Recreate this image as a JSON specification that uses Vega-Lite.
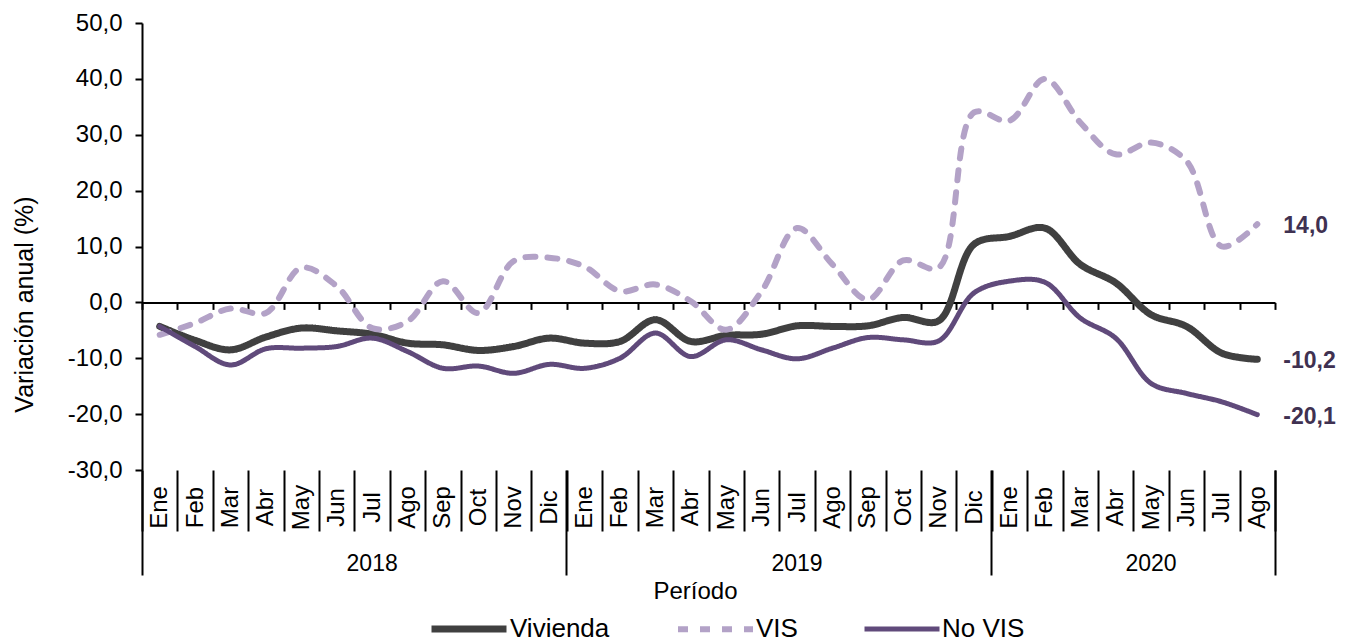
{
  "$schema": "https://vega.github.io/schema/vega-lite/v6.json",
  "width": 1133,
  "height": 447,
  "autosize": "none",
  "padding": {"left": 142, "top": 23, "right": 76, "bottom": 171},
  "background": "white",
  "config": {
    "font": "Liberation Sans",
    "view": {"stroke": null},
    "axis": {"labelColor": "#000000", "titleColor": "#000000", "domainColor": "#000000", "tickColor": "#000000", "grid": false}
  },
  "datasets": {
    "d": [
      {"periodo": "Ene 2018", "serie": "Vivienda", "valor": -4.3},
      {"periodo": "Feb 2018", "serie": "Vivienda", "valor": -6.8},
      {"periodo": "Mar 2018", "serie": "Vivienda", "valor": -8.5},
      {"periodo": "Abr 2018", "serie": "Vivienda", "valor": -6.2},
      {"periodo": "May 2018", "serie": "Vivienda", "valor": -4.6},
      {"periodo": "Jun 2018", "serie": "Vivienda", "valor": -5.1},
      {"periodo": "Jul 2018", "serie": "Vivienda", "valor": -5.7},
      {"periodo": "Ago 2018", "serie": "Vivienda", "valor": -7.3},
      {"periodo": "Sep 2018", "serie": "Vivienda", "valor": -7.6},
      {"periodo": "Oct 2018", "serie": "Vivienda", "valor": -8.6},
      {"periodo": "Nov 2018", "serie": "Vivienda", "valor": -7.9},
      {"periodo": "Dic 2018", "serie": "Vivienda", "valor": -6.4},
      {"periodo": "Ene 2019", "serie": "Vivienda", "valor": -7.3},
      {"periodo": "Feb 2019", "serie": "Vivienda", "valor": -7.0},
      {"periodo": "Mar 2019", "serie": "Vivienda", "valor": -3.1},
      {"periodo": "Abr 2019", "serie": "Vivienda", "valor": -7.0},
      {"periodo": "May 2019", "serie": "Vivienda", "valor": -5.9},
      {"periodo": "Jun 2019", "serie": "Vivienda", "valor": -5.7},
      {"periodo": "Jul 2019", "serie": "Vivienda", "valor": -4.2},
      {"periodo": "Ago 2019", "serie": "Vivienda", "valor": -4.3},
      {"periodo": "Sep 2019", "serie": "Vivienda", "valor": -4.2},
      {"periodo": "Oct 2019", "serie": "Vivienda", "valor": -2.7},
      {"periodo": "Nov 2019", "serie": "Vivienda", "valor": -3.3},
      {"periodo": "Dic 2019", "serie": "Vivienda", "valor": 10.4},
      {"periodo": "Ene 2020", "serie": "Vivienda", "valor": 11.8},
      {"periodo": "Feb 2020", "serie": "Vivienda", "valor": 13.3},
      {"periodo": "Mar 2020", "serie": "Vivienda", "valor": 6.8},
      {"periodo": "Abr 2020", "serie": "Vivienda", "valor": 3.5},
      {"periodo": "May 2020", "serie": "Vivienda", "valor": -2.2},
      {"periodo": "Jun 2020", "serie": "Vivienda", "valor": -4.3},
      {"periodo": "Jul 2020", "serie": "Vivienda", "valor": -9.1},
      {"periodo": "Ago 2020", "serie": "Vivienda", "valor": -10.2},
      {"periodo": "Ene 2018", "serie": "VIS", "valor": -5.8},
      {"periodo": "Feb 2018", "serie": "VIS", "valor": -3.7},
      {"periodo": "Mar 2018", "serie": "VIS", "valor": -1.1},
      {"periodo": "Abr 2018", "serie": "VIS", "valor": -1.9},
      {"periodo": "May 2018", "serie": "VIS", "valor": 6.2},
      {"periodo": "Jun 2018", "serie": "VIS", "valor": 2.9},
      {"periodo": "Jul 2018", "serie": "VIS", "valor": -4.6},
      {"periodo": "Ago 2018", "serie": "VIS", "valor": -3.4},
      {"periodo": "Sep 2018", "serie": "VIS", "valor": 3.8},
      {"periodo": "Oct 2018", "serie": "VIS", "valor": -1.9},
      {"periodo": "Nov 2018", "serie": "VIS", "valor": 7.4},
      {"periodo": "Dic 2018", "serie": "VIS", "valor": 8.0},
      {"periodo": "Ene 2019", "serie": "VIS", "valor": 6.4},
      {"periodo": "Feb 2019", "serie": "VIS", "valor": 2.0},
      {"periodo": "Mar 2019", "serie": "VIS", "valor": 3.2},
      {"periodo": "Abr 2019", "serie": "VIS", "valor": 0.2},
      {"periodo": "May 2019", "serie": "VIS", "valor": -4.9},
      {"periodo": "Jun 2019", "serie": "VIS", "valor": 2.0},
      {"periodo": "Jul 2019", "serie": "VIS", "valor": 13.3},
      {"periodo": "Ago 2019", "serie": "VIS", "valor": 6.8},
      {"periodo": "Sep 2019", "serie": "VIS", "valor": 0.5},
      {"periodo": "Oct 2019", "serie": "VIS", "valor": 7.5},
      {"periodo": "Nov 2019", "serie": "VIS", "valor": 6.2},
      {"periodo": "Dic 2019", "serie": "VIS", "valor": 34.0},
      {"periodo": "Ene 2020", "serie": "VIS", "valor": 32.5},
      {"periodo": "Feb 2020", "serie": "VIS", "valor": 40.0},
      {"periodo": "Mar 2020", "serie": "VIS", "valor": 32.2},
      {"periodo": "Abr 2020", "serie": "VIS", "valor": 26.5},
      {"periodo": "May 2020", "serie": "VIS", "valor": 28.6},
      {"periodo": "Jun 2020", "serie": "VIS", "valor": 25.3},
      {"periodo": "Jul 2020", "serie": "VIS", "valor": 10.0},
      {"periodo": "Ago 2020", "serie": "VIS", "valor": 14.0},
      {"periodo": "Ene 2018", "serie": "No VIS", "valor": -4.3},
      {"periodo": "Feb 2018", "serie": "No VIS", "valor": -7.9},
      {"periodo": "Mar 2018", "serie": "No VIS", "valor": -11.2},
      {"periodo": "Abr 2018", "serie": "No VIS", "valor": -8.3},
      {"periodo": "May 2018", "serie": "No VIS", "valor": -8.2},
      {"periodo": "Jun 2018", "serie": "No VIS", "valor": -7.9},
      {"periodo": "Jul 2018", "serie": "No VIS", "valor": -6.4},
      {"periodo": "Ago 2018", "serie": "No VIS", "valor": -8.8},
      {"periodo": "Sep 2018", "serie": "No VIS", "valor": -11.8},
      {"periodo": "Oct 2018", "serie": "No VIS", "valor": -11.4},
      {"periodo": "Nov 2018", "serie": "No VIS", "valor": -12.7},
      {"periodo": "Dic 2018", "serie": "No VIS", "valor": -11.1},
      {"periodo": "Ene 2019", "serie": "No VIS", "valor": -11.8},
      {"periodo": "Feb 2019", "serie": "No VIS", "valor": -10.0},
      {"periodo": "Mar 2019", "serie": "No VIS", "valor": -5.5},
      {"periodo": "Abr 2019", "serie": "No VIS", "valor": -9.7},
      {"periodo": "May 2019", "serie": "No VIS", "valor": -6.7},
      {"periodo": "Jun 2019", "serie": "No VIS", "valor": -8.5},
      {"periodo": "Jul 2019", "serie": "No VIS", "valor": -10.1},
      {"periodo": "Ago 2019", "serie": "No VIS", "valor": -8.2},
      {"periodo": "Sep 2019", "serie": "No VIS", "valor": -6.3},
      {"periodo": "Oct 2019", "serie": "No VIS", "valor": -6.7},
      {"periodo": "Nov 2019", "serie": "No VIS", "valor": -6.9},
      {"periodo": "Dic 2019", "serie": "No VIS", "valor": 1.7},
      {"periodo": "Ene 2020", "serie": "No VIS", "valor": 3.8},
      {"periodo": "Feb 2020", "serie": "No VIS", "valor": 3.6},
      {"periodo": "Mar 2020", "serie": "No VIS", "valor": -2.8},
      {"periodo": "Abr 2020", "serie": "No VIS", "valor": -6.4},
      {"periodo": "May 2020", "serie": "No VIS", "valor": -14.5},
      {"periodo": "Jun 2020", "serie": "No VIS", "valor": -16.3},
      {"periodo": "Jul 2020", "serie": "No VIS", "valor": -17.8},
      {"periodo": "Ago 2020", "serie": "No VIS", "valor": -20.1}
    ]
  },
  "data": {"name": "d"},
  "layer": [
    {
      "mark": {"type": "line", "interpolate": "catmull-rom", "strokeCap": "round", "strokeJoin": "round"},
      "encoding": {
        "x": {
          "field": "periodo", "type": "ordinal", "sort": null,
          "scale": {
            "type": "band", "paddingInner": 0, "paddingOuter": 0,
            "domain": ["Ene 2018","Feb 2018","Mar 2018","Abr 2018","May 2018","Jun 2018","Jul 2018","Ago 2018","Sep 2018","Oct 2018","Nov 2018","Dic 2018","Ene 2019","Feb 2019","Mar 2019","Abr 2019","May 2019","Jun 2019","Jul 2019","Ago 2019","Sep 2019","Oct 2019","Nov 2019","Dic 2019","Ene 2020","Feb 2020","Mar 2020","Abr 2020","May 2020","Jun 2020","Jul 2020","Ago 2020"]
          },
          "axis": {
            "orient": "bottom", "offset": -167.6, "labels": false, "title": null,
            "domain": true, "domainWidth": 2, "ticks": true, "tickBand": "extent",
            "tickSize": 7, "tickWidth": 2, "zindex": 0
          }
        },
        "y": {
          "field": "valor", "type": "quantitative",
          "scale": {"domain": [-30, 50], "nice": false, "zero": false},
          "axis": {
            "values": [-30, -20, -10, 0, 10, 20, 30, 40, 50],
            "labelExpr": "datum.value + ',0'",
            "labelFontSize": 24, "labelPadding": 13,
            "tickSize": 7, "tickWidth": 2, "domainWidth": 2,
            "title": "Variación anual (%)", "titleFontSize": 25, "titleFontWeight": "normal",
            "titleX": -110, "titleY": 281, "titleAngle": -90, "titleAlign": "center", "titleBaseline": "alphabetic"
          }
        },
        "color": {
          "field": "serie", "type": "nominal",
          "scale": {"domain": ["Vivienda", "VIS", "No VIS"], "range": ["#404040", "#b3a2c7", "#604a7b"]},
          "legend": {
            "title": null, "orient": "none", "direction": "horizontal", "legendX": 286, "legendY": 565,
            "symbolType": "stroke", "symbolSize": 5625, "symbolStrokeWidth": 6,
            "labelFontSize": 26, "labelColor": "#000000", "labelOffset": 0, "columnPadding": 56,
            "labelLimit": 300
          }
        },
        "strokeDash": {
          "field": "serie", "type": "nominal",
          "scale": {"domain": ["Vivienda", "VIS", "No VIS"], "range": [[1, 0], [10, 12], [1, 0]]},
          "legend": {"title": null}
        },
        "strokeWidth": {
          "field": "serie", "type": "ordinal",
          "scale": {"domain": ["Vivienda", "VIS", "No VIS"], "range": [7, 5, 4.5]},
          "legend": null
        }
      }
    },
    {
      "transform": [
        {"filter": "datum.periodo === 'Ago 2020'"},
        {"calculate": "(datum.valor < 0 ? '-' : '') + replace(format(abs(datum.valor), '.1f'), '.', ',')", "as": "etiqueta"}
      ],
      "mark": {"type": "text", "align": "left", "baseline": "middle", "dx": 26, "dy": 2, "fontSize": 23, "fontWeight": "bold", "color": "#3f3151"},
      "encoding": {
        "x": {"field": "periodo", "type": "ordinal", "sort": null, "axis": null},
        "y": {"field": "valor", "type": "quantitative"},
        "text": {"field": "etiqueta"}
      }
    },
    {
      "mark": {"type": "rule", "opacity": 0},
      "encoding": {
        "x": {
          "field": "periodo", "type": "ordinal", "sort": null,
          "axis": {
            "orient": "bottom", "title": null, "domain": false,
            "ticks": true, "tickBand": "extent", "tickSize": 61, "tickWidth": 2,
            "labelExpr": "split(datum.label, ' ')[0]",
            "labelAngle": -90, "labelAlign": "center", "labelBaseline": "middle",
            "labelFontSize": 24, "labelPadding": -24, "labelOverlap": false, "labelBound": false, "labelFlush": false
          }
        }
      }
    },
    {
      "mark": {"type": "rule", "opacity": 0},
      "encoding": {
        "x": {
          "field": "periodo", "type": "ordinal", "sort": null,
          "axis": {
            "orient": "bottom", "title": null, "domain": false, "labels": false,
            "values": ["Ene 2018", "Ene 2019", "Ene 2020"], "bandPosition": 0,
            "ticks": true, "tickSize": 105, "tickWidth": 2
          }
        }
      }
    },
    {
      "mark": {"type": "rule", "opacity": 0},
      "encoding": {
        "x": {
          "field": "periodo", "type": "ordinal", "sort": null,
          "axis": {
            "orient": "bottom", "title": null, "domain": false, "labels": false,
            "values": ["Ago 2020"], "bandPosition": 1,
            "ticks": true, "tickSize": 105, "tickWidth": 2
          }
        }
      }
    },
    {
      "mark": {"type": "rule", "opacity": 0},
      "encoding": {
        "x": {
          "field": "periodo", "type": "ordinal", "sort": null,
          "axis": {
            "orient": "bottom", "domain": false, "ticks": false,
            "values": ["Jul 2018", "Jul 2019", "May 2020"], "bandPosition": 0,
            "labelExpr": "split(datum.label, ' ')[1]",
            "labelAngle": 0, "labelAlign": "center", "labelBaseline": "middle",
            "labelFontSize": 23, "labelPadding": 93, "labelOverlap": false, "labelBound": false, "labelFlush": false,
            "title": "Período", "titleFontSize": 24, "titleFontWeight": "normal",
            "titleX": 553, "titleY": 121, "titleAlign": "center", "titleBaseline": "middle"
          }
        }
      }
    }
  ],
  "resolve": {"axis": {"x": "independent"}}
}
